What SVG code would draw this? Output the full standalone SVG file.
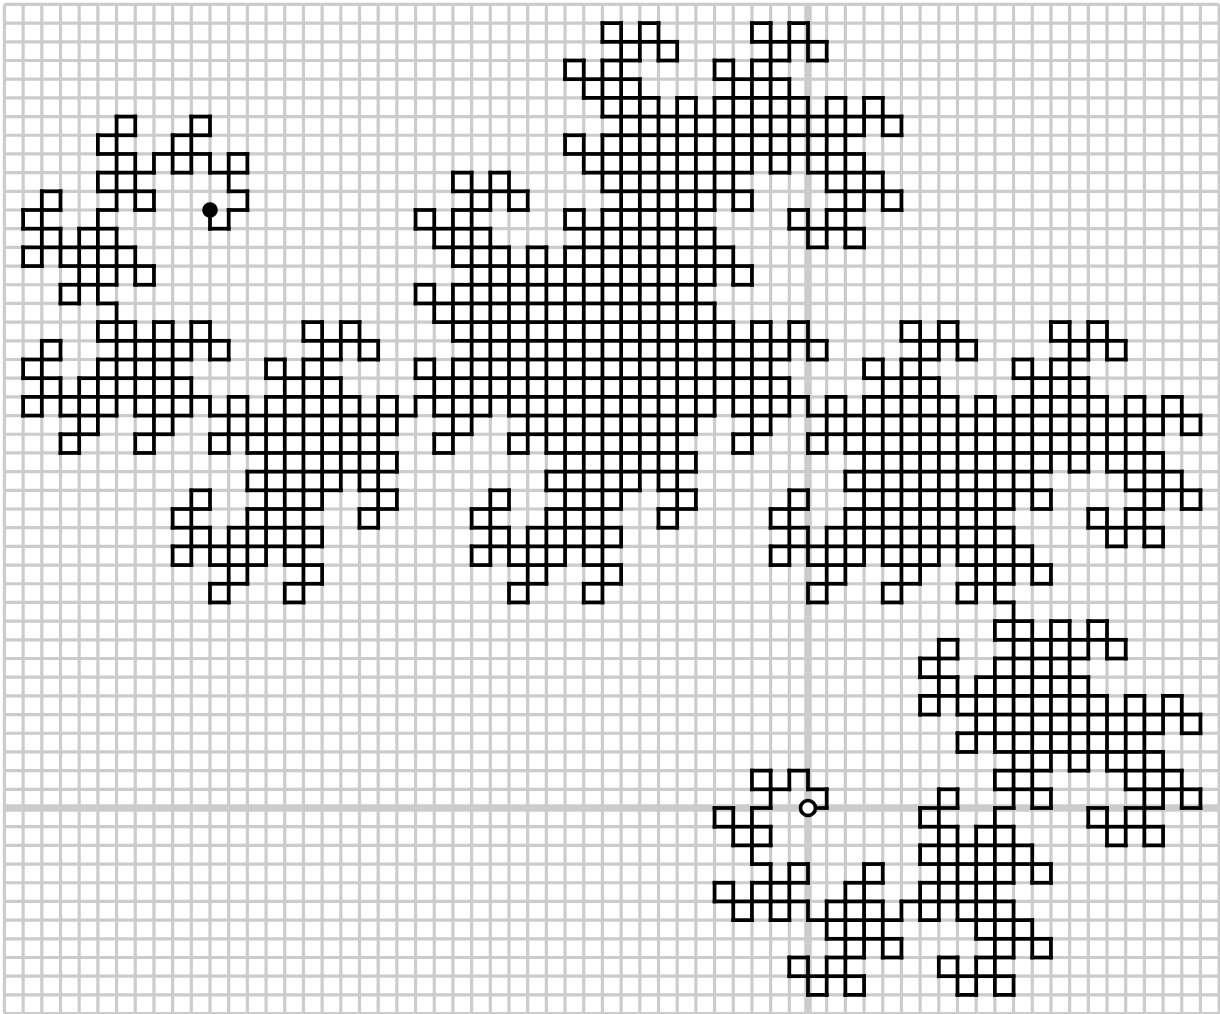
<svg xmlns="http://www.w3.org/2000/svg" width="1220" height="1014" viewBox="0 0 1220 1014">
<style>
.grid{fill:none;stroke:#ccc;stroke-width:0.17}
.axis{fill:none;stroke:#ccc;stroke-width:0.4}
.curve{fill:none;stroke:#000;stroke-width:0.2;stroke-linecap:square}
.dot{stroke:#000;stroke-width:3.6}
</style>
<defs>
<path id="d0" d="M0 0H1"/>
<g id="d1"><use href="#d0"/><use href="#d0" transform="rotate(90 1 0)"/></g>
<g id="d2"><use href="#d1"/><use href="#d1" transform="rotate(90 1 -1)"/></g>
<g id="d3"><use href="#d2"/><use href="#d2" transform="rotate(90 0 -2)"/></g>
<g id="d4"><use href="#d3"/><use href="#d3" transform="rotate(90 -2 -2)"/></g>
<g id="d5"><use href="#d4"/><use href="#d4" transform="rotate(90 -4 0)"/></g>
<g id="d6"><use href="#d5"/><use href="#d5" transform="rotate(90 -4 4)"/></g>
<g id="d7"><use href="#d6"/><use href="#d6" transform="rotate(90 0 8)"/></g>
<g id="d8"><use href="#d7"/><use href="#d7" transform="rotate(90 8 8)"/></g>
<g id="d9"><use href="#d8"/><use href="#d8" transform="rotate(90 16 0)"/></g>
<g id="d10"><use href="#d9"/><use href="#d9" transform="rotate(90 16 -16)"/></g>
<g id="d11"><use href="#d10"/><use href="#d10" transform="rotate(90 0 -32)"/></g>
</defs>
<rect width="1220" height="1014" fill="#fff"/>
<g transform="translate(808 808) scale(18.6875)">
<path class="grid" d="M-43 -43V11M-42 -43V11M-41 -43V11M-40 -43V11M-39 -43V11M-38 -43V11M-37 -43V11M-36 -43V11M-35 -43V11M-34 -43V11M-33 -43V11M-32 -43V11M-31 -43V11M-30 -43V11M-29 -43V11M-28 -43V11M-27 -43V11M-26 -43V11M-25 -43V11M-24 -43V11M-23 -43V11M-22 -43V11M-21 -43V11M-20 -43V11M-19 -43V11M-18 -43V11M-17 -43V11M-16 -43V11M-15 -43V11M-14 -43V11M-13 -43V11M-12 -43V11M-11 -43V11M-10 -43V11M-9 -43V11M-8 -43V11M-7 -43V11M-6 -43V11M-5 -43V11M-4 -43V11M-3 -43V11M-2 -43V11M-1 -43V11M1 -43V11M2 -43V11M3 -43V11M4 -43V11M5 -43V11M6 -43V11M7 -43V11M8 -43V11M9 -43V11M10 -43V11M11 -43V11M12 -43V11M13 -43V11M14 -43V11M15 -43V11M16 -43V11M17 -43V11M18 -43V11M19 -43V11M20 -43V11M21 -43V11M22 -43V11"/>
<path class="grid" d="M-43 -43H22M-43 -42H22M-43 -41H22M-43 -40H22M-43 -39H22M-43 -38H22M-43 -37H22M-43 -36H22M-43 -35H22M-43 -34H22M-43 -33H22M-43 -32H22M-43 -31H22M-43 -30H22M-43 -29H22M-43 -28H22M-43 -27H22M-43 -26H22M-43 -25H22M-43 -24H22M-43 -23H22M-43 -22H22M-43 -21H22M-43 -20H22M-43 -19H22M-43 -18H22M-43 -17H22M-43 -16H22M-43 -15H22M-43 -14H22M-43 -13H22M-43 -12H22M-43 -11H22M-43 -10H22M-43 -9H22M-43 -8H22M-43 -7H22M-43 -6H22M-43 -5H22M-43 -4H22M-43 -3H22M-43 -2H22M-43 -1H22M-43 1H22M-43 2H22M-43 3H22M-43 4H22M-43 5H22M-43 6H22M-43 7H22M-43 8H22M-43 9H22M-43 10H22M-43 11H22"/>
<path class="axis" d="M0 -43V11M-43 0H22"/>
<g id="curve" class="curve"><use href="#d11"/></g>
</g>
<circle id="start" class="dot" cx="808" cy="808" r="7.5" fill="#fff"/>
<circle id="end" class="dot" cx="210" cy="210" r="6" fill="#000"/>
</svg>
